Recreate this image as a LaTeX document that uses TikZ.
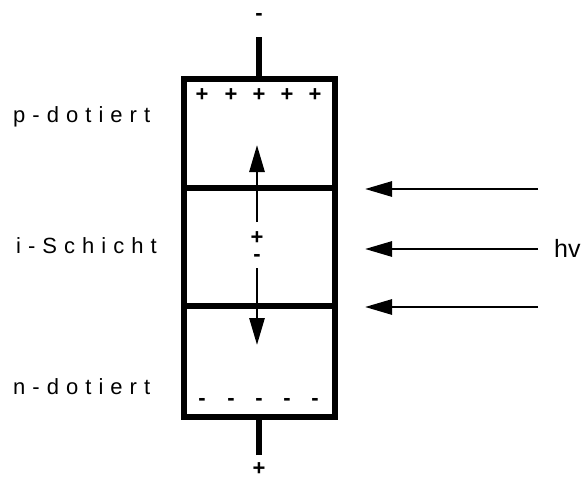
\documentclass[tikz,border=0pt]{standalone}
\usepackage{fontspec}
\setmainfont{Liberation Sans}
\newfontfamily\spaced[LetterSpace=32]{Liberation Sans}
\usetikzlibrary{arrows.meta}
\begin{document}
\begin{tikzpicture}[x=1pt,y=-1pt,
  layer/.style={draw,line width=5.5pt,minimum width=151pt,inner sep=0pt,outer sep=0pt,anchor=north west},
  lead/.style={line width=5.5pt},
  flow/.style={line width=2.8pt,-{Triangle[length=27pt,width=15pt]}},
  sign/.style={font=\fontsize{22}{22}\selectfont\bfseries,inner sep=0pt},
  label/.style={font=\fontsize{22}{22}\selectfont\spaced,inner sep=0pt,anchor=base west}]
\useasboundingbox (0,0) rectangle (582,479);
% diode layers
\node[layer,minimum height=109pt] (p) at (184,79) {};
\node[layer,minimum height=118pt] (i) at (184,188) {};
\node[layer,minimum height=111pt] (n) at (184,306) {};
% terminals
\coordinate (ttop) at (259,37);
\coordinate (tbot) at (259,455);
\draw[lead] (ttop) -- (ttop |- p.north);
\draw[lead] (tbot) -- (tbot |- n.south);
\node[sign] (tm) at (259,17) {-};
\node[sign] (tp) at (259,469) {+};
% fixed charges
\foreach \x [count=\k] in {202,231,259,287,315}{
  \node[sign] (pp\k) at (\x,95) {+};
  \node[sign] (nm\k) at (\x,402) {-};
}
% generated pair
\node[sign] (ep) at (257,238) {+};
\node[sign] (em) at (257,258) {-};
\coordinate (hup) at (257,145);
\coordinate (edn) at (257,345);
\draw[flow] ([yshift=16pt]ep.center) -- (hup);
\draw[flow] ([yshift=-10pt]em.center) -- (edn);
% incoming light
\node[inner sep=0pt,font=\fontsize{25}{25}\selectfont,anchor=base west] (hv) at (554,257) {hv};
\foreach \y [count=\k] in {189,249,307}{
  \coordinate (ls\k) at (538,\y);
  \coordinate (le\k) at (365,\y);
  \draw[flow] (ls\k) -- (le\k);
}
% layer labels
\node[label] (lp) at (13,122) {p-dotiert};
\node[label] (li) at (16,253) {i-Schicht};
\node[label] (ln) at (13,394) {n-dotiert};
\end{tikzpicture}
\end{document}
